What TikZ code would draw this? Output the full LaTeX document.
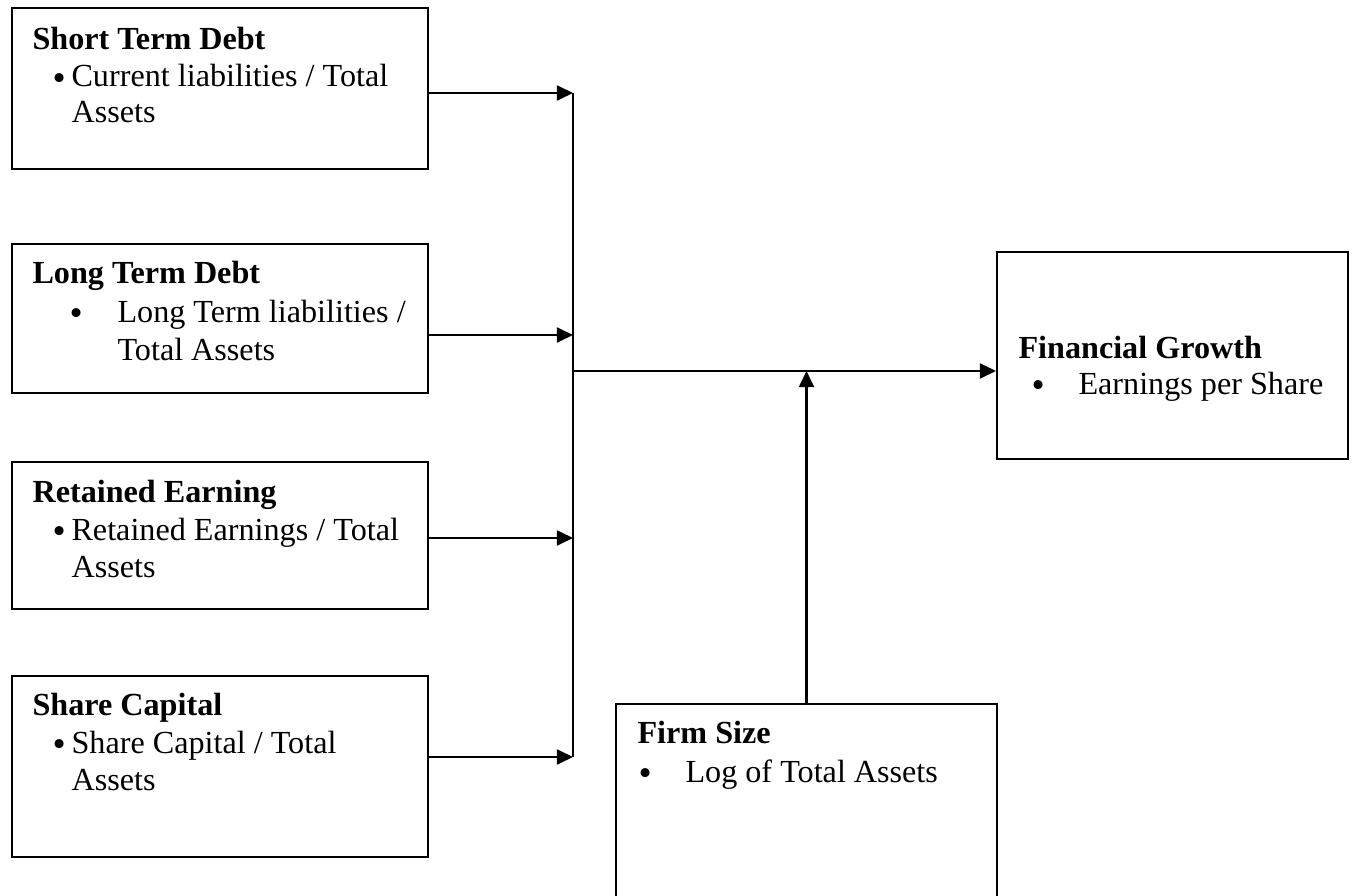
\documentclass[tikz,border=0pt]{standalone}
\usepackage{fontspec}
\setmainfont{Liberation Serif}
\usetikzlibrary{arrows.meta,fit}

\tikzset{
  box/.style={draw,line width=0.75pt,inner sep=0pt},
  lbl/.style={anchor=base west,inner sep=0pt,font=\fontsize{12}{14}\selectfont},
  dot/.style={anchor=base west,inner sep=0pt,font=\fontsize{14}{14}\selectfont},
  arr/.style={line width=0.75pt,-{Triangle[length=6pt,width=5.6pt]}}
}

\begin{document}
\begin{tikzpicture}[x=0.373pt,y=-0.373pt]
        \useasboundingbox (0,0) rectangle (1354,896);
        % boxes
        \node [box,fit={(12,8) (428,169)}] (sd) {};
        \node [box,fit={(12,244) (428,393)}] (ld) {};
        \node [box,fit={(12,462) (428,609)}] (re) {};
        \node [box,fit={(12,676) (428,857)}] (sc) {};
        \node [box,fit={(997,252) (1348,459)}] (fg) {};
        \node [box,fit={(616,704) (997,905)}] (fs) {};
        % texts
      \node [lbl] (sdT) at (32,49) {\textbf{Short Term Debt}};
      \node [dot] (sdB) at (52,90) {\textbullet};
      \node [lbl] (sdA) at (71,87) {Current liabilities / Total};
      \node [lbl] (sdC) at (71,123) {Assets};
      \node [lbl] (ldT) at (32,283) {\textbf{Long Term Debt}};
      \node [dot] (ldB) at (69,325) {\textbullet};
      \node [lbl] (ldA) at (117,322) {Long Term liabilities /};
      \node [lbl] (ldC) at (117,360) {Total Assets};
      \node [lbl] (reT) at (32,502) {\textbf{Retained Earning}};
      \node [dot] (reB) at (52,543) {\textbullet};
      \node [lbl] (reA) at (71,540) {Retained Earnings / Total};
      \node [lbl] (reC) at (71,577) {Assets};
      \node [lbl] (scT) at (32,715) {\textbf{Share Capital}};
      \node [dot] (scB) at (52,756) {\textbullet};
      \node [lbl] (scA) at (71,753) {Share Capital / Total};
      \node [lbl] (scC) at (71,790) {Assets};
      \node [lbl] (fgT) at (1018,358) {\textbf{Financial Growth}};
      \node [dot] (fgB) at (1031,397) {\textbullet};
      \node [lbl] (fgA) at (1078,394) {Earnings per Share};
      \node [lbl] (fsT) at (637,743) {\textbf{Firm Size}};
      \node [dot] (fsB) at (638,785) {\textbullet};
      \node [lbl] (fsA) at (685,782) {Log of Total Assets};
        % connectors
        \coordinate (b1) at (573,93);
        \coordinate (b2) at (573,335);
        \coordinate (b3) at (573,538);
        \coordinate (b4) at (573,757);
        \coordinate (mid) at (573,371);
        \coordinate (meet) at (fs.north |- mid);
        \draw [line width=0.75pt] (b1) -- (b4);
        \draw [arr] (b1 -| sd.east) -- (b1);
        \draw [arr] (b2 -| ld.east) -- (b2);
        \draw [arr] (b3 -| re.east) -- (b3);
        \draw [arr] (b4 -| sc.east) -- (b4);
        \draw [arr] (mid) -- (mid -| fg.west);
        \draw [arr] (fs.north) -- (meet);
    \end{tikzpicture}
\end{document}
